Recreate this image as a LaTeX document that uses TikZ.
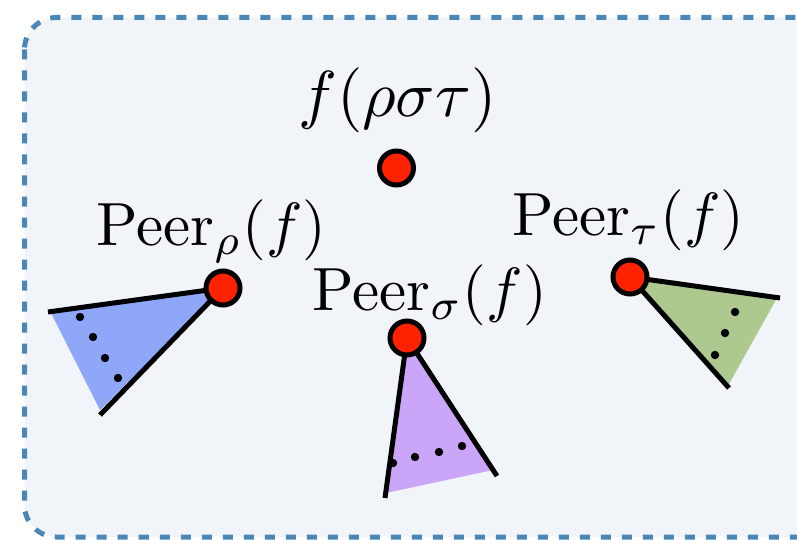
\documentclass[tikz,border=0pt]{standalone}
\definecolor{framecol}{HTML}{4A87B7}
\definecolor{bgcol}{HTML}{F1F5F9}
\definecolor{dotred}{HTML}{FF2200}
\definecolor{bluefill}{HTML}{8FA7F8}
\definecolor{purplefill}{HTML}{CBA5F7}
\definecolor{greenfill}{HTML}{ADC98F}
\newcommand{\biglbl}[2][6.1]{\scalebox{#1}{$#2$}}
\tikzset{
  frame/.style={draw=framecol, fill=bgcol, line width=5pt, dash pattern=on 10pt off 11pt, rounded corners=32pt},
  peer/.style={circle, draw=black, fill=dotred, line width=5pt, minimum size=34pt, inner sep=0pt},
  edge/.style={draw=black, line width=5pt},
  lbl/.style={anchor=base west, inner sep=0pt},
  smalldot/.style={fill=black}
}
\begin{document}
\begin{tikzpicture}[x=1pt,y=-1pt]
\useasboundingbox (0,0) rectangle (797,540);
\draw[frame] (24.5,17.5) rectangle (830,537);

% corners of the cones
\coordinate (rA) at (48,312);
\coordinate (rB) at (100,415);
\coordinate (sA) at (385,498);
\coordinate (sB) at (497,476);
\coordinate (tA) at (780,298);
\coordinate (tB) at (729,388);

\coordinate (rc) at (223,288);
\coordinate (sc) at (407,338);
\coordinate (tc) at (630,277);

% fills
\fill[bluefill] (rc) -- (51,313) -- (100,410) -- cycle;
\fill[purplefill] (sc) -- (386,493) -- (493,470) -- cycle;
\fill[greenfill] (tc) -- (777,298) -- (729,384) -- cycle;

% dots
\foreach \p in {(80,317),(93,337),(105,358),(118,378)} \fill[smalldot] \p circle (4.2);
\foreach \p in {(393,463),(415,457),(439,452),(462,446)} \fill[smalldot] \p circle (4.2);
\foreach \p in {(735,312),(725,333),(715,355)} \fill[smalldot] \p circle (4.2);

% edges
\draw[edge] (rc) -- (rA);
\draw[edge] (rc) -- (rB);
\draw[edge] (sc) -- (sA);
\draw[edge] (sc) -- (sB);
\draw[edge] (tc) -- (tA);
\draw[edge] (tc) -- (tB);

% peers
\node[peer] (top) at (396.5,168) {};
\node[peer] (rho) at (rc) {};
\node[peer] (sigma) at (sc) {};
\node[peer] (tau) at (tc) {};

% labels
\node[lbl] (ltop) at (298,117) {\biglbl[6.5]{f(\rho\sigma\tau)}};
\node[lbl] (lrho) at (96,245) {\biglbl{\mathrm{Peer}_{\rho}(f)}};
\node[lbl] (lsigma) at (312,310) {\biglbl{\mathrm{Peer}_{\sigma}(f)}};
\node[lbl] (ltau) at (512,235) {\biglbl{\mathrm{Peer}_{\tau}(f)}};
\end{tikzpicture}
\end{document}
